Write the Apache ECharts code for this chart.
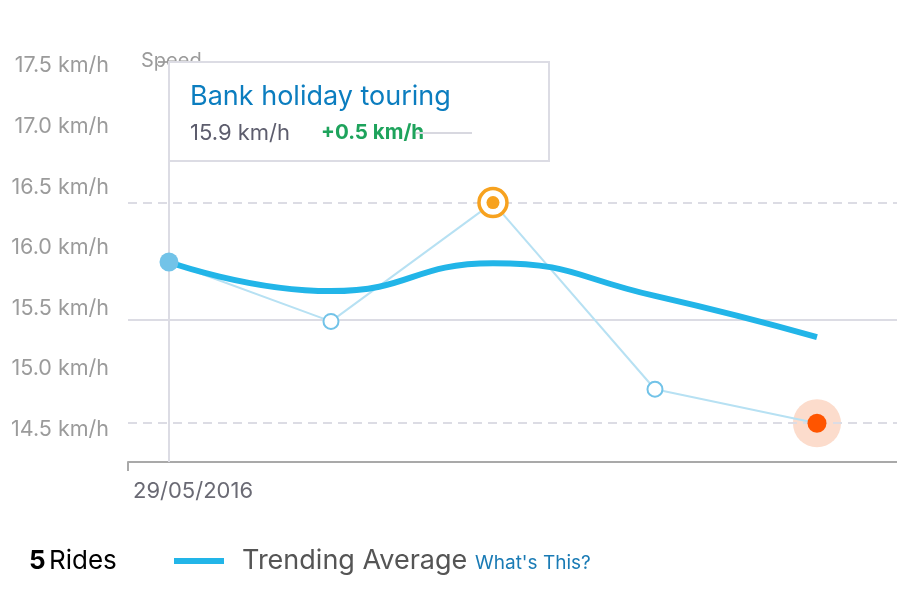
<!DOCTYPE html>
<html>
<head>
<meta charset="utf-8">
<script src="https://cdn.jsdelivr.net/npm/echarts@6/dist/echarts.min.js"></script>
<style>
  html, body { margin: 0; padding: 0; background: #fff; }
  #chart { width: 897px; height: 608px; }
</style>
</head>
<body>
<div id="chart"></div>
<script>
// ride speeds, one per ride (km/h)
var rideSpeeds = [15.85, 15.36, 16.34, 14.80, 14.52];
// trending average through the rides
var trendSpeeds = [15.85, 15.61, 15.84, 15.57, 15.23];
var rideIndex = [0, 1, 2, 3, 4];
var yLabels = [14.5, 15.0, 15.5, 16.0, 16.5, 17.0, 17.5];
var dateLabels = ['29/05/2016'];
var rideTitle = 'Bank holiday touring';
var rideValue = '15.9 km/h';
var rideDelta = '+0.5 km/h';

var yMin = 14.2, yMax = 17.5;
var xMin = -0.253, xMax = 4.494;

var lightBlue = '#72c3e8';
var trendBlue = '#22b5e8';
var gridGrey = '#dcdce4';
var axisGrey = '#a9a9a9';
var font = 'Inter';

function pair(arr, i) {
    return [rideIndex[i], arr[i]];
}

var ridePoints = rideIndex.map(function(v, i) { return pair(rideSpeeds, i); });
var trendPoints = rideIndex.map(function(v, i) { return pair(trendSpeeds, i); });

//点的样式
var markers = [
    { value: pair(rideSpeeds, 0), symbolSize: 19, itemStyle: { color: lightBlue, borderWidth: 0 } },
    { value: pair(rideSpeeds, 1), symbolSize: 15, itemStyle: { color: '#fff', borderColor: lightBlue, borderWidth: 2 } },
    { value: pair(rideSpeeds, 2), symbolSize: 28, itemStyle: { color: '#fff', borderColor: '#f7a21f', borderWidth: 3.5 } },
    { value: pair(rideSpeeds, 2), symbolSize: 13, itemStyle: { color: '#f7a21f', borderWidth: 0 } },
    { value: pair(rideSpeeds, 3), symbolSize: 15, itemStyle: { color: '#fff', borderColor: lightBlue, borderWidth: 2 } },
    { value: pair(rideSpeeds, 4), symbolSize: 19, itemStyle: { color: '#ff5500', borderWidth: 0 } }
];

var myChart = echarts.init(document.getElementById('chart'));

var option = {
    animation: false,
    backgroundColor: '#fff',
    grid: {
        left: 128,
        right: 0,
        top: 62,
        bottom: 146
    },
    xAxis: {
        type: 'value',
        min: xMin,
        max: xMax,
        splitLine: { show: false },
        axisLine: { lineStyle: { color: axisGrey, width: 2 } },
        axisTick: {
            customValues: [xMin],
            length: 9,
            lineStyle: { color: axisGrey, width: 2 }
        },
        axisLabel: {
            customValues: [xMin],
            align: 'left',
            margin: 18,
            padding: [0, 0, 0, 5],
            fontFamily: font,
            fontSize: 22,
            color: '#6a6a74',
            formatter: function() { return dateLabels[0]; }
        }
    },
    yAxis: {
        type: 'value',
        min: yMin,
        max: yMax,
        splitLine: { show: false },
        axisLine: { show: true, lineStyle: { color: axisGrey, width: 2 } },
        axisTick: {
            show: true,
            customValues: [yMin, yMax],
            length: 11,
            lineStyle: { color: axisGrey, width: 2 }
        },
        axisLabel: {
            customValues: yLabels,
            margin: 19,
            formatter: function(v) { return '{v|' + v.toFixed(1) + ' km/h}'; },
            rich: {
                v: {
                    fontFamily: font,
                    fontSize: 21.5,
                    color: '#9b9b9b',
                    padding: [8, 0, 0, 0]
                }
            }
        }
    },
    series: [{
        name: 'Halo',
        type: 'scatter',
        z: 1,
        silent: true,
        symbolSize: 48,
        itemStyle: { color: '#fcdccc', opacity: 1 },
        data: [pair(rideSpeeds, 4)]
    }, {
        name: 'Rides',
        type: 'line',
        z: 3,
        showSymbol: false,
        lineStyle: { color: '#b7e1f3', width: 2 },
        data: ridePoints,
        markLine: {
            silent: true,
            z: 2,
            symbol: 'none',
            label: { show: false },
            lineStyle: { color: gridGrey, width: 2 },
            data: [
                { type: 'max', lineStyle: { type: [9, 6] } },
                { type: 'average', lineStyle: { type: 'solid' } },
                { type: 'min', lineStyle: { type: [9, 6] } },
                { xAxis: rideIndex[0], lineStyle: { type: 'solid' } }
            ]
        }
    }, {
        name: 'Trending Average',
        type: 'line',
        z: 4,
        smooth: true,
        showSymbol: false,
        lineStyle: { color: trendBlue, width: 6 },
        data: trendPoints
    }, {
        name: 'Markers',
        type: 'scatter',
        z: 5,
        itemStyle: { opacity: 1 },
        data: markers
    }],
    graphic: [{
        type: 'text',
        z: 50,
        style: {
            x: 141, y: 61, text: 'Speed', fill: '#9b9b9b',
            font: '20px ' + font, textVerticalAlign: 'middle'
        }
    }, {
        type: 'rect',
        z: 100,
        shape: { x: 169, y: 62, width: 380, height: 99 },
        style: { fill: '#fff', stroke: gridGrey, lineWidth: 2 }
    }, {
        type: 'text',
        z: 101,
        style: {
            x: 190, y: 97, text: rideTitle, fill: '#0b7dbf',
            font: '27px ' + font, textVerticalAlign: 'middle'
        }
    }, {
        type: 'text',
        z: 101,
        style: {
            x: 190, y: 133, text: rideValue, fill: '#5d5d6d',
            font: '22px ' + font, textVerticalAlign: 'middle'
        }
    }, {
        type: 'text',
        z: 101,
        style: {
            x: 321, y: 133, text: rideDelta, fill: '#1ea35c',
            font: 'bold 20.5px ' + font, textVerticalAlign: 'middle'
        }
    }, {
        type: 'line',
        z: 102,
        shape: { x1: 416, y1: 133, x2: 472, y2: 133 },
        style: { stroke: '#d8d8e0', lineWidth: 2 }
    }, {
        type: 'text',
        z: 101,
        style: {
            x: 29, y: 561,
            text: '{b|' + rideIndex.length + '} {r|Rides}',
            textVerticalAlign: 'middle',
            rich: {
                b: { fontFamily: font, fontSize: 26, fontWeight: 'bold', color: '#222' },
                r: { fontFamily: font, fontSize: 26, color: '#222' }
            }
        }
    }, {
        type: 'line',
        z: 101,
        shape: { x1: 174, y1: 561, x2: 224, y2: 561 },
        style: { stroke: trendBlue, lineWidth: 6 }
    }, {
        type: 'text',
        z: 101,
        style: {
            x: 242, y: 561, text: 'Trending Average', fill: '#555',
            font: '27px ' + font, textVerticalAlign: 'middle'
        }
    }, {
        type: 'text',
        z: 101,
        style: {
            x: 475, y: 563, text: "What's This?", fill: '#1a7bb5',
            font: '19px ' + font, textVerticalAlign: 'middle'
        }
    }]
};

myChart.setOption(option);
</script>
</body>
</html>
